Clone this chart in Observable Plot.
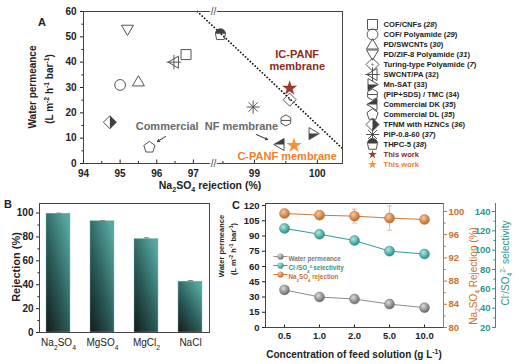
<!DOCTYPE html>
<html><head><meta charset="utf-8">
<script src="https://cdn.jsdelivr.net/npm/d3@7"></script>
<script src="https://cdn.jsdelivr.net/npm/@observablehq/plot@0.6"></script>
<style>
html,body{margin:0;padding:0;background:#fff;}
#wrap{position:relative;width:519px;height:364px;overflow:hidden;font-family:"Liberation Sans",Arial,Helvetica,sans-serif;color:#222;}
.abs{position:absolute;}
.lbl{position:absolute;white-space:nowrap;font-weight:bold;line-height:1;transform:translate(-50%,-50%);}
.lbl.rot{transform:translate(-50%,-50%) rotate(-90deg);}
.lbl sub,.lbl sup{font-size:68%;line-height:0;}
</style></head>
<body>
<svg width="0" height="0" style="position:absolute">
<defs>
<linearGradient id="barGrad" x1="0" y1="1" x2="0.8" y2="0">
<stop offset="0" stop-color="#121b1b"/><stop offset="0.5" stop-color="#2b5d5a"/><stop offset="1" stop-color="#56a7a0"/>
</linearGradient>
<radialGradient id="ballGrey" cx="0.38" cy="0.34" r="0.68"><stop offset="0" stop-color="#dcdcdc"/><stop offset="1" stop-color="#656565"/></radialGradient>
<radialGradient id="ballTeal" cx="0.38" cy="0.34" r="0.68"><stop offset="0" stop-color="#b0e8e3"/><stop offset="1" stop-color="#1f8d86"/></radialGradient>
<radialGradient id="ballOrange" cx="0.38" cy="0.34" r="0.68"><stop offset="0" stop-color="#f6c9a0"/><stop offset="1" stop-color="#bd6524"/></radialGradient>
</defs></svg>
<div id="wrap"></div>
<script>
// ---------------- DATA ----------------
// Panel A: Na2SO4 rejection (%) vs water permeance
const aNames = ["COF/CNFs (28)", "COF/ Polyamide (29)", "PD/SWCNTs (30)", "PD/ZIF-8 Polyamide (31)",
  "Turing-type Polyamide (7)", "SWCNT/PA (32)", "Mn-SAT (33)", "(PIP+SDS) / TMC (34)", "Commercial DK (35)",
  "Commercial DL (35)", "TFNM with HZNCs (36)", "PIP-0.8-60 (37)", "THPC-5 (38)", "This work", "This work"];
const aRejection = [96.8, 95.0, 95.5, 95.2, 99.56, 96.47, 99.94, 99.5, 99.4, 95.8, 94.72, 98.98, 98.46, 99.56, 99.63];
const aPermeance = [43, 31, 32.4, 52.8, 25.2, 40, 11.8, 17, 7.5, 6.4, 16.3, 22.3, 50.8, 29.7, 7.1];
const aItalicRef = [true, true, true, true, true, false, false, false, true, true, true, true, true, false, false];
const aXTicks = [94, 95, 96, 97, 99, 100];
const aXMinor = [94.5, 95.5, 96.5, 98.5, 99.5];
const aYTicks = [0, 10, 20, 30, 40, 50, 60];
const aYMinor = [5, 15, 25, 35, 45, 55];
const tradeX = [97.11, 100.4];
const tradeY = [60, 5.9];
const aNotes = ["IC-PANF\nmembrane", "Commercial\u00a0 NF membrane", "C-PANF membrane"];
const aNoteX = [99.68, 97.37, 99.52];
const aNoteY = [40.9, 14.6, 2.9];
const arrowX1 = [96.24, 99.03], arrowY1 = [10.66, 11.45];
const arrowX2 = [96.02, 99.21], arrowY2 = [8.69, 9.47];

// Panel B: rejection of salts
const bSalts = ["Na_{2}SO_{4}", "MgSO_{4}", "MgCl_{2}", "NaCl"];
const bRejection = [99.5, 93.2, 78.3, 42.6];
const bError = [0.4, 0.6, 1.0, 0.9];
const bYTicks = [0, 20, 40, 60, 80, 100];
const bYMinor = [10, 30, 50, 70, 90];

// Panel C: effect of feed concentration
const cConc = ["0.5", "1.0", "2.0", "5.0", "10.0"];
const cPermeance = [37, 30, 28, 23, 19.5];
const cSelectivity = [122.5, 116.5, 110, 99, 96];
const cRejection = [99.66, 99.37, 99.2, 98.86, 98.63];
const cRejErr = [0.3, 0.3, 1.2, 2.1, 0.4];
const cLeftTicks = [0, 15, 30, 45, 60, 75, 90, 105, 120];
const cOrTicks = [80, 84, 88, 92, 96, 100];
const cOrMinor = [82, 86, 90, 94, 98];
const cTeTicks = [20, 40, 60, 80, 100, 120, 140];
const cTeMinor = [30, 50, 70, 90, 110, 130];
const cLegend = ["Water permeance", "Cl^{-}/SO_{4}^{2-}selectivity", "Na_{2}SO_{4} rejection"];

// ---------------- STYLE ----------------
const FONT = '"Liberation Sans", Arial, Helvetica, sans-serif';
const st = fs => ({fontFamily: FONT, fontSize: fs + "px", fontWeight: "bold", color: "#222", background: "transparent", overflow: "visible"});
const TEAL = "#1f978e", ORANGE = "#c9702c", GREYSYM = "#555";
const RED_STAR = "#9b3a2a", OR_STAR = "#f7923c";
const intFmt = d3.format("d");

const sym = f => ({draw(ctx, size) { f(ctx, Math.sqrt(size / Math.PI)); }});
function poly(c, p) { c.moveTo(p[0][0], p[0][1]); for (let k = 1; k < p.length; k++) c.lineTo(p[k][0], p[k][1]); c.closePath(); }
function seg(c, x1, y1, x2, y2) { c.moveTo(x1, y1); c.lineTo(x2, y2); }
const ngon = (n, R, rot) => d3.range(n).map(k => [R * Math.cos(rot + 2 * Math.PI * k / n), R * Math.sin(rot + 2 * Math.PI * k / n)]);
const S = {
  square: sym((c, r) => poly(c, [[-r, -r], [r, -r], [r, r], [-r, r]])),
  circle: sym((c, r) => { c.moveTo(r, 0); c.arc(0, 0, r, 0, 2 * Math.PI); }),
  triUp: sym((c, r) => poly(c, [[0, -1.15 * r], [1.2 * r, 0.9 * r], [-1.2 * r, 0.9 * r]])),
  triDown: sym((c, r) => poly(c, [[0, 1.15 * r], [1.2 * r, -0.9 * r], [-1.2 * r, -0.9 * r]])),
  diamond: sym((c, r) => poly(c, [[0, -1.3 * r], [1.3 * r, 0], [0, 1.3 * r], [-1.3 * r, 0]])),
  diamondDot: sym((c, r) => { poly(c, [[0, -1.3 * r], [1.3 * r, 0], [0, 1.3 * r], [-1.3 * r, 0]]); c.moveTo(0.6, 0); c.arc(0, 0, 0.6, 0, 2 * Math.PI); }),
  diamondRight: sym((c, r) => poly(c, [[0, -1.3 * r], [1.3 * r, 0], [0, 1.3 * r]])),
  triLeftPlus: sym((c, r) => { poly(c, [[-1.15 * r, 0], [0.9 * r, -1.2 * r], [0.9 * r, 1.2 * r]]); seg(c, 0, -1.45 * r, 0, 1.45 * r); seg(c, -1.45 * r, 0, 1.45 * r, 0); }),
  triRight: sym((c, r) => poly(c, [[1.15 * r, 0], [-0.9 * r, -1.2 * r], [-0.9 * r, 1.2 * r]])),
  triRightLow: sym((c, r) => poly(c, [[1.15 * r, 0], [-0.9 * r, 0], [-0.9 * r, 1.2 * r]])),
  triLeft: sym((c, r) => poly(c, [[-1.15 * r, 0], [0.9 * r, -1.2 * r], [0.9 * r, 1.2 * r]])),
  triLeftTop: sym((c, r) => poly(c, [[-1.15 * r, 0], [0.9 * r, -1.2 * r], [0.9 * r, 0]])),
  hexLine: sym((c, r) => { poly(c, ngon(6, 1.12 * r, Math.PI / 6)); seg(c, -0.97 * r, 0, 0.97 * r, 0); }),
  pentagon: sym((c, r) => poly(c, ngon(5, 1.18 * r, -Math.PI / 2))),
  asterisk: sym((c, r) => { for (let k = 0; k < 4; k++) { const a = k * Math.PI / 4, L = 1.3 * r; seg(c, -L * Math.cos(a), -L * Math.sin(a), L * Math.cos(a), L * Math.sin(a)); } }),
  cup: sym((c, r) => { c.moveTo(-r, -0.2 * r); c.arc(0, -0.2 * r, r, Math.PI, 2 * Math.PI); c.lineTo(0.75 * r, 0.95 * r); c.lineTo(-0.75 * r, 0.95 * r); c.closePath(); }),
  cupTop: sym((c, r) => { c.moveTo(-r, -0.2 * r); c.arc(0, -0.2 * r, r, Math.PI, 2 * Math.PI); c.closePath(); }),
  hline: {draw(c) { c.moveTo(-7, 0); c.lineTo(7, 0); }},
  cap: {draw(c) { c.moveTo(-2.6, 0); c.lineTo(2.6, 0); }}
};
// symbol style per legend entry (same order as aNames)
const aSym = [
  {s: S.square}, {s: S.circle, r: 5.4}, {s: S.triUp}, {s: S.triDown}, {s: S.diamondDot},
  {s: S.triLeftPlus}, {s: S.triRight, h: S.triRightLow}, {s: S.hexLine}, {s: S.triLeft, h: S.triLeftTop},
  {s: S.pentagon}, {s: S.diamond, h: S.diamondRight}, {s: S.asterisk}, {s: S.cup, h: S.cupTop},
  {star: RED_STAR}, {star: OR_STAR}
];
function symbolMarks(k, xf, yf, starR) {
  const o = aSym[k];
  if (o.star) return [Plot.dot([k], {x: xf, y: yf, symbol: "star", r: starR, fill: o.star, stroke: "none"})];
  const m = [Plot.dot([k], {x: xf, y: yf, symbol: o.s, r: o.r || 5, fill: "none", stroke: GREYSYM, strokeWidth: 1})];
  if (o.h) m.push(Plot.dot([k], {x: xf, y: yf, symbol: o.h, r: o.r || 5, fill: "#404040", stroke: "none"}));
  return m;
}

// ---------------- helpers ----------------
const wrap = document.getElementById("wrap");
function place(node, left, top) {
  const d = document.createElement("div"); d.className = "abs";
  d.style.left = left + "px"; d.style.top = top + "px";
  d.appendChild(node); wrap.appendChild(d); return node;
}
function label(html, x, y, fs, opt = {}) {
  const d = document.createElement("div");
  d.className = "lbl" + (opt.rot ? " rot" : "");
  d.style.left = x + "px"; d.style.top = y + "px"; d.style.fontSize = fs + "px";
  if (opt.color) d.style.color = opt.color;
  if (opt.weight) d.style.fontWeight = opt.weight;
  d.innerHTML = html; wrap.appendChild(d);
}
function richify(svg) {
  d3.select(svg).selectAll("text").each(function() {
    const t = this.textContent;
    if (!/[_^*]\{/.test(t)) return;
    this.innerHTML = t.replace(/([_^*])\{([^}]*)\}/g, (m, k, v) =>
      k === "*" ? `<tspan font-style="italic">${v}</tspan>` :
      `<tspan baseline-shift="${k === "_" ? "sub" : "super"}" font-size="68%">${v}</tspan>`);
  });
}

// ---------------- PANEL A ----------------
const aIdx = d3.range(aNames.length);
const A = Plot.plot({
  width: 345, height: 190, marginLeft: 83, marginRight: 3, marginTop: 11, marginBottom: 27,
  style: st(10),
  x: {type: "linear", domain: [94, 97.55, 98.35, 100.4], range: [83, 213, 213, 342]},
  y: {domain: [0, 60]},
  marks: [
    Plot.line(d3.range(tradeX.length), {x: k => tradeX[k], y: k => tradeY[k], stroke: "#111", strokeWidth: 1.8, strokeDasharray: "0.01 3.3", strokeLinecap: "round"}),
    Plot.frame({stroke: "#444"}),
    Plot.axisY({ticks: aYTicks, tickFormat: intFmt, tickSize: 3, tickPadding: 4, label: null}),
    Plot.axisY({ticks: aYMinor, tickSize: 1.6, fill: "none", label: null}),
    Plot.axisX({ticks: aXTicks, tickFormat: intFmt, tickSize: 0, tickPadding: 6, label: null}),
    Plot.axisX({ticks: aXTicks, tickSize: -3.5, fill: "none", label: null}),
    Plot.axisX({ticks: aXMinor, tickSize: -2, fill: "none", label: null}),
    Plot.text([60, 0], {x: () => 97.95, y: v => v, text: () => "//", fontSize: 10, fontWeight: "normal", fill: "#444", stroke: "white", strokeWidth: 3, paintOrder: "stroke"}),
    ...aIdx.flatMap(k => symbolMarks(k, i => aRejection[i], i => aPermeance[i], 4.8)),
    Plot.arrow(d3.range(2), {x1: k => arrowX1[k], y1: k => arrowY1[k], x2: k => arrowX2[k], y2: k => arrowY2[k], stroke: "#333", strokeWidth: 1, headLength: 3.5}),
    Plot.text([0], {x: k => aNoteX[k], y: k => aNoteY[k], text: k => aNotes[k], fontSize: 11, lineHeight: 1.15, fill: "#8e2b1d"}),
    Plot.text([1], {x: k => aNoteX[k], y: k => aNoteY[k], text: k => aNotes[k], fontSize: 11, fill: "#6a6a6a"}),
    Plot.text([2], {x: k => aNoteX[k], y: k => aNoteY[k], text: k => aNotes[k], fontSize: 11, fill: "#f07f2a"})
  ]
});
place(A, 0, 0);

// Legend of panel A
const L = Plot.plot({
  width: 174, height: 190, margin: 0, style: st(7.6),
  x: {domain: [0, 1], range: [27, 38], axis: null},
  y: {type: "point", domain: aIdx, range: [18, 169], padding: 0, axis: null},
  marks: [
    ...aIdx.flatMap(k => symbolMarks(k, () => 0, i => i, 2.7)),
    Plot.text(aIdx.slice(0, 13), {x: () => 1, y: k => k, textAnchor: "start", fill: "#222",
      text: k => aItalicRef[k] ? aNames[k].replace(/\((\d+)\)$/, "(*{$1})") : aNames[k]}),
    Plot.text([13], {x: () => 1, y: k => k, textAnchor: "start", fill: "#8e2b1d", text: k => aNames[k]}),
    Plot.text([14], {x: () => 1, y: k => k, textAnchor: "start", fill: "#f07f2a", text: k => aNames[k]})
  ]
});
place(L, 345, 0);

// ---------------- PANEL B ----------------
const bIdx = d3.range(bSalts.length);
const B = Plot.plot({
  width: 250, height: 174, marginLeft: 39, marginRight: 41, marginTop: 13, marginBottom: 32,
  style: st(10),
  x: {domain: bSalts, paddingInner: 0.444, paddingOuter: 0.111},
  y: {domain: [0, 108]},
  marks: [
    Plot.barY(bIdx, {x: k => bSalts[k], y: k => bRejection[k], fill: "url(#barGrad)", stroke: "#7fbdb7", strokeWidth: 0.4}),
    Plot.ruleX(bIdx, {x: k => bSalts[k], y1: k => bRejection[k] - bError[k], y2: k => bRejection[k] + bError[k], stroke: "#888"}),
    Plot.dot(bIdx, {x: k => bSalts[k], y: k => bRejection[k] + bError[k], symbol: S.cap, r: 1, stroke: "#888", strokeWidth: 1}),
    Plot.frame({stroke: "#444"}),
    Plot.axisY({ticks: bYTicks, tickFormat: intFmt, tickSize: 3, tickPadding: 3, label: null}),
    Plot.axisY({ticks: bYMinor, tickSize: 1.6, fill: "none", label: null}),
    Plot.axisX({tickSize: 0, tickPadding: 6, label: null, fontWeight: "normal"})
  ]
});
place(B, 0, 190);

// ---------------- PANEL C ----------------
const cIdx = d3.range(cConc.length);
const cX = {type: "point", domain: cConc, range: [32, 175], padding: 0};
const C1 = Plot.plot({
  width: 269, height: 174, marginLeft: 15, marginRight: 76, marginTop: 13, marginBottom: 37,
  style: st(9.5),
  x: cX, y: {domain: [0, 122]},
  marks: [
    Plot.frame({stroke: "#444"}),
    Plot.axisY({ticks: cLeftTicks, tickFormat: intFmt, tickSize: 3, tickPadding: 3, label: null}),
    Plot.axisX({tickSize: 0, tickPadding: 5, label: null}),
    Plot.axisX({tickSize: -2.5, fill: "none", label: null}),
    Plot.line(cIdx, {x: k => cConc[k], y: k => cPermeance[k], stroke: "#8c8c8c", strokeWidth: 1}),
    Plot.dot(cIdx, {x: k => cConc[k], y: k => cPermeance[k], r: 5, fill: "url(#ballGrey)", stroke: "#6a6a6a", strokeWidth: 0.4}),
    ...[0, 1, 2].flatMap(i => [
      Plot.dot([i], {frameAnchor: "top-left", dx: 15, dy: 53 + 9 * i, symbol: S.hline, r: 1, stroke: ["#8c8c8c", "#2a9d95", "#c97a3c"][i], strokeWidth: 1}),
      Plot.dot([i], {frameAnchor: "top-left", dx: 15, dy: 53 + 9 * i, r: 3.1, fill: ["url(#ballGrey)", "url(#ballTeal)", "url(#ballOrange)"][i], stroke: "none"}),
      Plot.text([i], {frameAnchor: "top-left", dx: 23, dy: 53 + 9 * i, text: k => cLegend[k], textAnchor: "start", fontSize: 6.3, fill: ["#7a7a7a", TEAL, ORANGE][i]})
    ])
  ]
});
place(C1, 250, 190);

const C2 = Plot.plot({
  width: 269, height: 174, marginLeft: 15, marginRight: 76, marginTop: 13, marginBottom: 37,
  style: st(9.5),
  x: {...cX, axis: null}, y: {domain: [80, 101.38]},
  marks: [
    Plot.frame({anchor: "right", stroke: ORANGE}),
    Plot.axisY({anchor: "right", ticks: cOrTicks, tickFormat: intFmt, tickSize: 3, tickPadding: 2, label: null, color: ORANGE}),
    Plot.axisY({anchor: "right", ticks: cOrMinor, tickSize: 1.6, fill: "none", label: null, stroke: ORANGE}),
    Plot.ruleX(cIdx, {x: k => cConc[k], y1: k => cRejection[k] - cRejErr[k], y2: k => cRejection[k] + cRejErr[k], stroke: "#e5b08a", strokeWidth: 0.9}),
    Plot.dot(cIdx, {x: k => cConc[k], y: k => cRejection[k] + cRejErr[k], symbol: S.cap, r: 1, stroke: "#e5b08a", strokeWidth: 0.9}),
    Plot.dot(cIdx, {x: k => cConc[k], y: k => cRejection[k] - cRejErr[k], symbol: S.cap, r: 1, stroke: "#e5b08a", strokeWidth: 0.9}),
    Plot.line(cIdx, {x: k => cConc[k], y: k => cRejection[k], stroke: "#c97a3c", strokeWidth: 1}),
    Plot.dot(cIdx, {x: k => cConc[k], y: k => cRejection[k], r: 5, fill: "url(#ballOrange)", stroke: "#b0652a", strokeWidth: 0.4})
  ]
});
place(C2, 250, 190);

const C3 = Plot.plot({
  width: 269, height: 174, marginLeft: 245, marginRight: 20, marginTop: 13, marginBottom: 37,
  style: st(9.5),
  x: {...cX, axis: null}, y: {domain: [20, 148.3]},
  marks: [
    Plot.frame({anchor: "left", stroke: TEAL}),
    Plot.axisY({anchor: "left", ticks: cTeTicks, tickFormat: intFmt, tickSize: 3, tickPadding: 2, label: null, color: TEAL}),
    Plot.axisY({anchor: "left", ticks: cTeMinor, tickSize: 1.6, fill: "none", label: null, stroke: TEAL}),
    Plot.line(cIdx, {x: k => cConc[k], y: k => cSelectivity[k], stroke: "#2a9d95", strokeWidth: 1}),
    Plot.dot(cIdx, {x: k => cConc[k], y: k => cSelectivity[k], r: 5, fill: "url(#ballTeal)", stroke: "#1d8078", strokeWidth: 0.4})
  ]
});
place(C3, 250, 190);

[A, L, B, C1, C2, C3].forEach(richify);

// ---------------- HTML titles ----------------
label("A", 42, 22, 11);
label("Water permeance", 33, 87, 10, {rot: true});
label("(L m<sup>-2</sup> h<sup>-1</sup> bar<sup>-1</sup>)", 50, 89, 10, {rot: true});
label("Na<sub>2</sub>SO<sub>4</sub> rejection (%)", 210, 185, 10.5);
label("B", 8, 204, 11);
label("Rejection (%)", 16, 267, 11, {rot: true});
label("C", 236, 205, 11);
label("Water permeance", 222, 246, 7.5, {rot: true});
label("(L m<sup>-2</sup> h<sup>-1</sup> bar<sup>-1</sup>)", 234, 249, 7.5, {rot: true});
label("Na<sub>2</sub>SO<sub>4</sub> Rejection (%)", 474, 276, 10, {rot: true, color: ORANGE, weight: "normal"});
label("Cl<sup>-</sup>/SO<sub>4</sub><sup>2-</sup> selectivity", 506, 263, 10, {rot: true, color: TEAL, weight: "normal"});
label("Concentration of feed solution (g L<sup>-1</sup>)", 354, 355, 10);
</script>
</body></html>
